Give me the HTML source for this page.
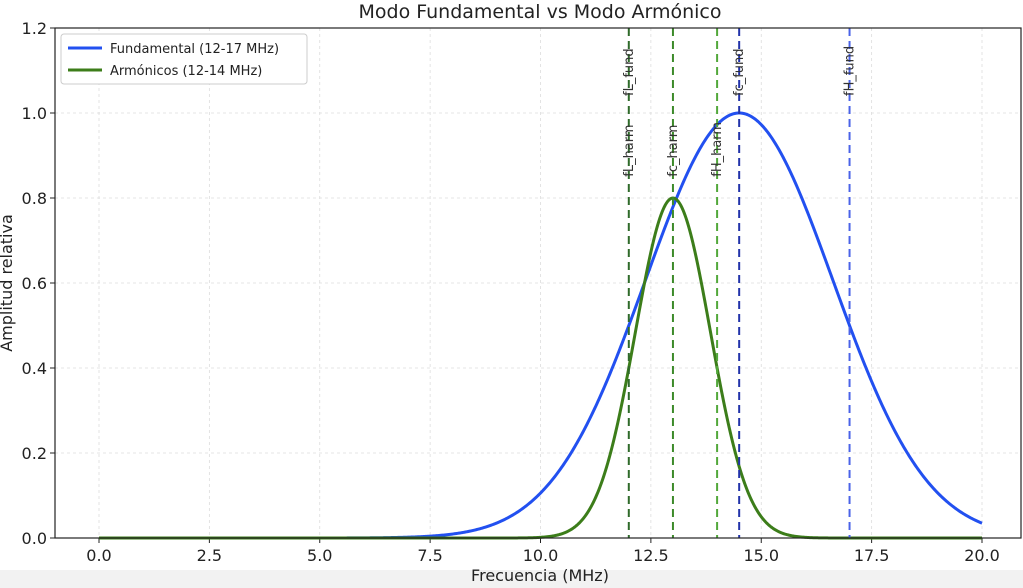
<!DOCTYPE html>
<html><head><meta charset="utf-8"><style>
body{margin:0;background:#fff;width:1023px;height:588px;overflow:hidden}
svg{display:block;font-family:"DejaVu Sans","Liberation Sans",sans-serif}
</style></head><body>
<svg id="s" width="1023" height="588" viewBox="0 0 1023 588">
<rect x="0" y="570" width="1023" height="18" fill="#f2f2f2"/>
<g id="grid" stroke="#dcdcdc" stroke-width="0.8" stroke-dasharray="3,3"></g>
<g id="ticks" font-size="16" fill="#222"></g>
<path id="blue" fill="none" stroke="#2250f0" stroke-width="3"/>
<path id="green" fill="none" stroke="#3c7d1a" stroke-width="3"/>
<g id="vl" stroke-width="2" stroke-dasharray="8,5"></g>
<g id="lab" font-size="13" fill="#333"></g>
<rect x="55" y="28" width="966" height="510" fill="none" stroke="#222" stroke-width="1.2"/>
<text x="540" y="18" font-size="19" text-anchor="middle" fill="#222">Modo Fundamental vs Modo Armónico</text>
<text x="540" y="581" font-size="16" text-anchor="middle" fill="#222">Frecuencia (MHz)</text>
<text transform="translate(12,283) rotate(-90)" font-size="16" text-anchor="middle" fill="#222">Amplitud relativa</text>
<rect x="61" y="34" width="246" height="50" rx="3" fill="#fff" stroke="#ccc"/>
<line x1="68" y1="48" x2="102" y2="48" stroke="#2250f0" stroke-width="3"/>
<text x="110" y="53" font-size="13" fill="#222">Fundamental (12-17 MHz)</text>
<line x1="68" y1="70" x2="102" y2="70" stroke="#3c7d1a" stroke-width="3"/>
<text x="110" y="75" font-size="13" fill="#222">Armónicos (12-14 MHz)</text>
</svg>
<script>
var X=function(v){return 99+v*44.15},Y=function(v){return 538-v*425};
var g=document.getElementById('grid'),t=document.getElementById('ticks'),h='',tt='';
for(var i=0;i<=8;i++){var v=i*2.5,x=X(v);h+='<line x1="'+x+'" y1="28" x2="'+x+'" y2="538"/>';
tt+='<line x1="'+x+'" y1="538" x2="'+x+'" y2="543" stroke="#222"/><text x="'+x+'" y="561" text-anchor="middle">'+v.toFixed(1)+'</text>';}
for(var i=0;i<=6;i++){var v=i*0.2,y=Y(v);h+='<line x1="55" y1="'+y+'" x2="1021" y2="'+y+'"/>';
tt+='<line x1="50" y1="'+y+'" x2="55" y2="'+y+'" stroke="#222"/><text x="47" y="'+(y+6)+'" text-anchor="end">'+v.toFixed(1)+'</text>';}
g.innerHTML=h;t.innerHTML=tt;
function P(a,c,s){var d='';for(var k=0;k<=800;k++){var v=k*20/800;d+=(k?'L':'M')+X(v).toFixed(2)+','+Y(a*Math.exp(-(v-c)*(v-c)/(2*s*s))).toFixed(2);}return d;}
document.getElementById('blue').setAttribute('d',P(1,14.5,2.123));
document.getElementById('green').setAttribute('d',P(0.8,13,0.8493));
var L=[[12,'#2f6a2a','fL_fund',1.04],[14.5,'#2233aa','fc_fund',1.04],[17,'#4a63e8','fH_fund',1.04],[12,'#2f6a2a','fL_harm',0.85],[13,'#3c8a2a','fc_harm',0.85],[14,'#52a83a','fH_harm',0.85]];
var vl='',lb='';
L.forEach(function(e,i){var x=X(e[0]);if(i!=3)vl+='<line x1="'+x+'" y1="28" x2="'+x+'" y2="538" stroke="'+e[1]+'"/>';
lb+='<text transform="translate('+(x+4)+','+Y(e[3])+') rotate(-90)">'+e[2]+'</text>';});
document.getElementById('vl').innerHTML=vl;document.getElementById('lab').innerHTML=lb;
</script>
</body></html>
